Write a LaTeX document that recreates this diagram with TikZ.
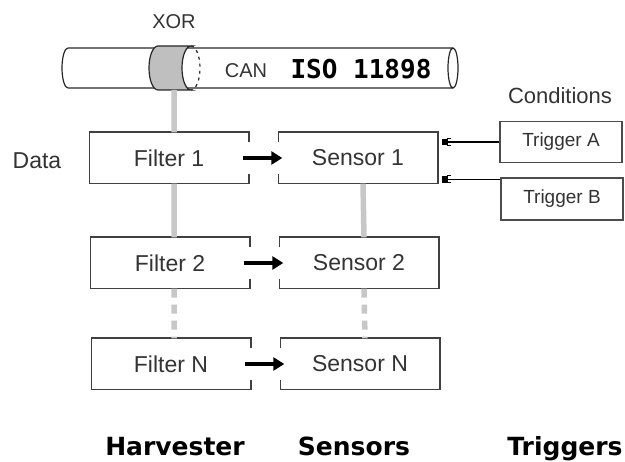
\documentclass[tikz,border=0pt]{standalone}
\usepackage{fontspec}
\setmainfont{Liberation Sans}
\newfontfamily\headfont{DejaVu Sans}
\newfontfamily\codefont{DejaVu Sans Mono}
\usetikzlibrary{arrows.meta,positioning}

\tikzset{
    block/.style={minimum width=159pt, minimum height=51pt, inner sep=0pt,
        text=black!80, font=\fontsize{23}{27}\selectfont},
    frame/.style={draw=black!75, line width=1.6pt},
    trigbox/.style={draw=black!70, line width=1.4pt, minimum width=122pt,
        minimum height=41pt, inner sep=0pt, text=black!80,
        font=\fontsize{19}{22}\selectfont},
    label/.style={text=black!80, font=\fontsize{21}{25}\selectfont},
    heading/.style={anchor=base, font=\headfont\bfseries\fontsize{25}{29}\selectfont},
    cable/.style={draw=black!85, line width=1.2pt},
    bus/.style={draw=black!22, line width=5.5pt},
    busgap/.style={bus, dash pattern=on 9pt off 7pt},
    pass/.style={line width=3.5pt, -{Triangle[length=11pt,width=13pt]}},
    plug/.style={line width=1.1pt,
        -{Bracket[width=8pt,length=3.5pt,line width=1.1pt] Square[length=5pt,width=6.5pt,sep=4pt]}},
}

\begin{document}
\begin{tikzpicture}[x=1pt,y=-1pt]
    \useasboundingbox (0,0) rectangle (625,462);

    % the bus cable
    \draw [cable]
        (68,48) -- (453,48)
        (68,88) -- (453,88)
        (68,48) arc (90:270:6pt and 20pt)
        (453,68) ellipse (5pt and 20pt)
        ;

    % the tap on the cable
    \fill [black!25]
        (158,46) arc (90:270:9pt and 22pt)
        -- (191,90) arc (270:90:9pt and 22pt)
        -- cycle
        ;
    \draw [cable]
        (158,46) arc (90:270:9pt and 22pt)
        -- (191,90) arc (270:90:9pt and 22pt)
        -- cycle
        ;
    \draw [cable, dash pattern=on 3pt off 4pt]
        (191,46) arc (90:-90:9pt and 22pt)
        ;
    \coordinate (tap) at (174,90);

    \node [label, font=\fontsize{20}{24}\selectfont] (xor) at (174,22) {XOR};
    \node [label, font=\fontsize{20}{24}\selectfont] (can) at (246,71) {CAN};
    \node [font=\codefont\bfseries\fontsize{26}{30}\selectfont] (iso) at (361,69) {ISO 11898};

    % filters and sensors
    \node [block] (f1) at (169,158) {Filter 1};
    \node [block] (s1) at (358,158) {Sensor 1};
    \node [block] (f2) at (170,263) {Filter 2};
    \node [block] (s2) at (359,263) {Sensor 2};
    \node [block] (fn) at (171,364) {Filter N};
    \node [block] (sn) at (360,364) {Sensor N};

    \node [label, font=\fontsize{23}{27}\selectfont] (data) at (37,161) {Data};

    % boxes open where the arrows pass
    \draw [frame]
        ([yshift=-10pt]f1.north east) -- (f1.north east) -- (f1.north west)
            -- (f1.south west) -- (f1.south east) -- ([yshift=10pt]f1.south east)
        ([yshift=-10pt]f2.north east) -- (f2.north east) -- (f2.north west)
            -- (f2.south west) -- (f2.south east) -- ([yshift=10pt]f2.south east)
        ([yshift=-10pt]fn.north east) -- (fn.north east) -- (fn.north west)
            -- (fn.south west) -- (fn.south east) -- ([yshift=10pt]fn.south east)
        ;
    \draw [frame]
        ([yshift=-10pt]s1.north west) -- (s1.north west) -- (s1.north east)
            -- (s1.south east) -- (s1.south west) -- ([yshift=10pt]s1.south west)
        ([yshift=-10pt]s2.north west) -- (s2.north west) -- (s2.north east)
            -- (s2.south east) -- (s2.south west) -- ([yshift=10pt]s2.south west)
        ([yshift=-10pt]sn.north west) -- (sn.north west) -- (sn.north east)
            -- (sn.south east) -- (sn.south west) -- ([yshift=10pt]sn.south west)
        ;

    % grey links down each column
    \draw [bus]
        (tap) -- (tap |- f1.north)
        (tap |- f1.south) -- (tap |- f2.north)
        ([xshift=5pt]s1.south) -- ([xshift=5pt]s2.north)
        ;
    \draw [busgap]
        (tap |- f2.south) -- (tap |- fn.north)
        ([xshift=5pt]s2.south) -- ([xshift=5pt]sn.north)
        ;

    \draw [pass] ([xshift=-6pt]f1.east) -- ([xshift=4pt]s1.west);
    \draw [pass] ([xshift=-6pt]f2.east) -- ([xshift=4pt]s2.west);
    \draw [pass] ([xshift=-6pt]fn.east) -- ([xshift=4pt]sn.west);

    % triggers
    \node [label, font=\fontsize{22}{26}\selectfont] (cond) at (560,96) {Conditions};
    \node [trigbox] (ta) at (561,142) {Trigger A};
    \node [trigbox, minimum height=42pt] (tb) at (562,199) {Trigger B};
    \coordinate (tbin) at ([yshift=-2pt]tb.north west);

    \draw [plug] (ta.west) -- (ta.west -| s1.east);
    \draw [plug] (tbin) -- (tbin -| s1.east);

    % column titles
    \node [heading] (harv) at (175,456) {Harvester};
    \node [heading] (sens) at (354,456) {Sensors};
    \node [heading] (trig) at (565,456) {Triggers};
\end{tikzpicture}
\end{document}
